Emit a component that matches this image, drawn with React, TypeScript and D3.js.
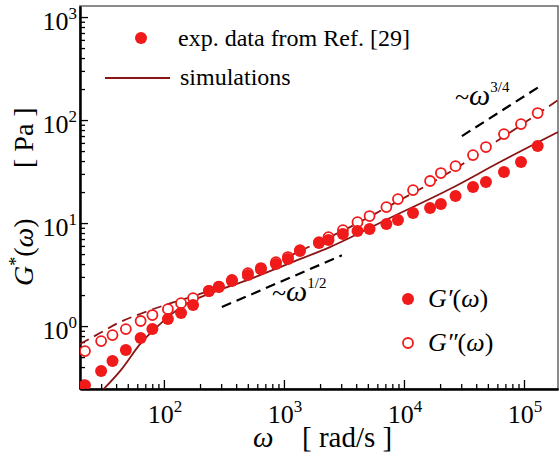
import { useEffect, useRef } from "react"
import * as d3 from "d3"

const WIDTH = 560
const HEIGHT = 465
const RED = "#f01a1a"
const DARKRED = "#8b1414"
const FONT = "Liberation Serif"

// exp. data from Ref. [29]
const OMEGA_EXP = [22, 30, 37.3, 48.2, 64, 80.2, 108, 139, 175, 237, 287, 369, 501, 643, 858, 1080, 1360, 1958, 2350, 3100, 4100, 5170, 7140, 8910, 11900, 16500, 20300, 26900, 37600, 48200, 68100, 94400, 130000]
const G1_EXP = [0.267, 0.366, 0.457, 0.585, 0.765, 0.935, 1.17, 1.34, 1.6, 2.19, 2.39, 2.74, 3.13, 3.57, 4.0, 4.47, 5.35, 6.4, 6.84, 7.82, 8.36, 8.74, 9.78, 10.7, 12.5, 14.0, 15.3, 18.3, 22.4, 25.0, 31.3, 39.1, 55.9]
const G2_EXP = [0.572, 0.715, 0.818, 0.935, 1.12, 1.28, 1.46, 1.67, 1.87, 2.19, 2.42, 2.8, 3.27, 3.66, 4.18, 4.68, 5.47, 6.54, 7.31, 8.55, 10.2, 11.7, 14.3, 17.1, 20.9, 25.6, 30.6, 35.7, 45.7, 54.7, 73.1, 91.4, 117]

// simulations
const OMEGA_SIM1 = [29.2, 43.8, 64.3, 85, 115, 158, 246, 521, 1122, 2415, 7640, 24150, 63100, 192000]
const G1_SIM = [0.224, 0.374, 0.684, 0.95, 1.3, 1.67, 2.09, 2.86, 4.09, 5.85, 11.2, 21.4, 39.1, 76.4]
const OMEGA_SIM2 = [20, 29.3, 41.4, 63.1, 102, 200, 521, 1360, 3550, 9260, 24150, 63100, 192000]
const G2_SIM = [0.669, 0.855, 1.07, 1.31, 1.6, 2.05, 3.13, 5.35, 9.14, 16.7, 31.3, 65.4, 156]

// power law guides
const GUIDE_HALF_OMEGA = [304, 3040]
const GUIDE_HALF_G = [1.53, 4.86]
const GUIDE_34_OMEGA = [30400, 141000]
const GUIDE_34_G = [69.9, 219]

const X_DOMAIN = [20, 192000]
const Y_DOMAIN = [0.245, 1280]
const X_MAJOR = [1e2, 1e3, 1e4, 1e5]
const Y_MAJOR = [1e0, 1e1, 1e2, 1e3]

export default function App() {
    const svgRef = useRef<SVGSVGElement>(null)

    useEffect(() => {
        const left = 80, right = 558, top = 6, bottom = 389
        const svg = d3.select(svgRef.current)
        svg.selectAll("*").remove()

        const x = d3.scaleLog().domain(X_DOMAIN).range([left, right])
        const y = d3.scaleLog().domain(Y_DOMAIN).range([bottom, top])

        const isPow = (v: number) => Math.abs(Math.log10(v) - Math.round(Math.log10(v))) < 1e-6
        const xMinor = x.ticks().filter(v => !isPow(v))
        const yMinor = y.ticks().filter(v => !isPow(v))

        const txt = (px: number, py: number, size: number) => svg.append("text")
            .attr("x", px).attr("y", py).attr("font-size", size)
            .style("font-family", FONT).attr("fill", "#000")

        svg.append("defs").append("clipPath").attr("id", "plotclip")
            .append("rect").attr("x", left).attr("y", top)
            .attr("width", right - left).attr("height", bottom - top)

        // frame
        svg.append("rect")
            .attr("x", left).attr("y", top)
            .attr("width", right - left).attr("height", bottom - top)
            .attr("fill", "none").attr("stroke", "#707070").attr("stroke-width", 1.6)

        // x axis
        const gx = svg.append("g").attr("transform", `translate(0,${bottom})`)
        gx.append("g").call(d3.axisBottom(x).tickValues(xMinor).tickSize(-5).tickSizeOuter(0).tickFormat(() => ""))
        gx.append("g").call(d3.axisBottom(x).tickValues(X_MAJOR).tickSize(-9).tickSizeOuter(0).tickFormat(() => ""))
        // y axis
        const gy = svg.append("g").attr("transform", `translate(${left},0)`)
        gy.append("g").call(d3.axisLeft(y).tickValues(yMinor).tickSize(-5).tickSizeOuter(0).tickFormat(() => ""))
        gy.append("g").call(d3.axisLeft(y).tickValues(Y_MAJOR).tickSize(-8).tickSizeOuter(0).tickFormat(() => ""))
        svg.selectAll(".domain").attr("stroke", "#000").attr("stroke-width", 2)
        svg.selectAll(".tick line").attr("stroke", "#000").attr("stroke-width", 1.3)

        // tick labels
        X_MAJOR.forEach(v => {
            const t = txt(x(v) + 1, bottom + 34, 26).attr("text-anchor", "middle")
            t.append("tspan").text("10")
            t.append("tspan").attr("dy", -11).attr("font-size", 17).text(Math.round(Math.log10(v)))
        })
        Y_MAJOR.forEach(v => {
            const t = txt(left - 3, y(v) + 13, 26).attr("text-anchor", "end")
            t.append("tspan").text("10")
            t.append("tspan").attr("dy", -11).attr("font-size", 17).text(Math.round(Math.log10(v)))
        })

        // axis titles
        txt(253, 447, 29).attr("font-style", "italic").text("ω")
        txt(302, 447, 29).text("[ rad/s ]")
        const yt = txt(0, 0, 28).attr("transform", "translate(33,286) rotate(-90)")
        yt.append("tspan").attr("font-style", "italic").text("G")
        yt.append("tspan").attr("dy", -11).attr("font-size", 18).text("*")
        yt.append("tspan").attr("dy", 11).text("(")
        yt.append("tspan").attr("font-style", "italic").text("ω")
        yt.append("tspan").text(")")
        txt(0, 0, 28).attr("transform", "translate(33,168) rotate(-90)").text("[ Pa ]")

        // simulation lines
        const plot = svg.append("g").attr("clip-path", "url(#plotclip)")
        const line = d3.line<[number, number]>()
            .x(d => x(d[0])).y(d => y(d[1]))
            .curve(d3.curveMonotoneX)
        plot.append("path")
            .datum(OMEGA_SIM1.map((w, i) => [w, G1_SIM[i]] as [number, number]))
            .attr("d", line).attr("fill", "none")
            .attr("stroke", DARKRED).attr("stroke-width", 1.8)
        plot.append("path")
            .datum(OMEGA_SIM2.map((w, i) => [w, G2_SIM[i]] as [number, number]))
            .attr("d", line).attr("fill", "none")
            .attr("stroke", DARKRED).attr("stroke-width", 1.8).attr("stroke-dasharray", "10,6")

        // guides
        const guide = (ws: number[], gs: number[]) => plot.append("line")
            .attr("x1", x(ws[0])).attr("y1", y(gs[0]))
            .attr("x2", x(ws[1])).attr("y2", y(gs[1]))
            .attr("stroke", "#000").attr("stroke-width", 2.2).attr("stroke-dasharray", "10,6")
        guide(GUIDE_HALF_OMEGA, GUIDE_HALF_G)
        guide(GUIDE_34_OMEGA, GUIDE_34_G)

        // data markers
        plot.selectAll(".g2")
            .data(OMEGA_EXP)
            .join("circle")
            .attr("class", "g2")
            .attr("cx", d => x(d)).attr("cy", (d, i) => y(G2_EXP[i]))
            .attr("r", 5).attr("fill", "#fff").attr("stroke", RED).attr("stroke-width", 1.8)
        plot.selectAll(".g1")
            .data(OMEGA_EXP)
            .join("circle")
            .attr("class", "g1")
            .attr("cx", d => x(d)).attr("cy", (d, i) => y(G1_EXP[i]))
            .attr("r", 6).attr("fill", RED)

        // guide labels
        const glab = (px: number, py: number, exp: string) => {
            const t = txt(px, py, 30)
            t.append("tspan").attr("font-size", 26).text("~")
            t.append("tspan").attr("font-style", "italic").text("ω")
            t.append("tspan").attr("dy", -13).attr("font-size", 15).text(exp)
        }
        glab(272, 301, "1/2")
        glab(455, 105, "3/4")

        // legend top
        svg.append("circle").attr("cx", 141).attr("cy", 38).attr("r", 6).attr("fill", RED)
        txt(178, 46, 24).text("exp. data from Ref. [29]")
        svg.append("line").attr("x1", 105).attr("x2", 170).attr("y1", 78).attr("y2", 78)
            .attr("stroke", DARKRED).attr("stroke-width", 2)
        txt(180, 85, 24).text("simulations")

        // legend bottom right
        svg.append("circle").attr("cx", 408).attr("cy", 299).attr("r", 6).attr("fill", RED)
        svg.append("circle").attr("cx", 408).attr("cy", 343).attr("r", 5).attr("fill", "#fff")
            .attr("stroke", RED).attr("stroke-width", 1.8)
        const l1 = txt(428, 307, 26)
        l1.append("tspan").attr("font-style", "italic").text("G′")
        l1.append("tspan").text("(")
        l1.append("tspan").attr("font-style", "italic").text("ω")
        l1.append("tspan").text(")")
        const l2 = txt(428, 351, 26)
        l2.append("tspan").attr("font-style", "italic").text("G″")
        l2.append("tspan").text("(")
        l2.append("tspan").attr("font-style", "italic").text("ω")
        l2.append("tspan").text(")")
    }, [])

    return (
        <svg ref={svgRef} width={WIDTH} height={HEIGHT}
            style={{ position: "absolute", left: 0, top: 0, background: "#fff" }} />
    )
}
